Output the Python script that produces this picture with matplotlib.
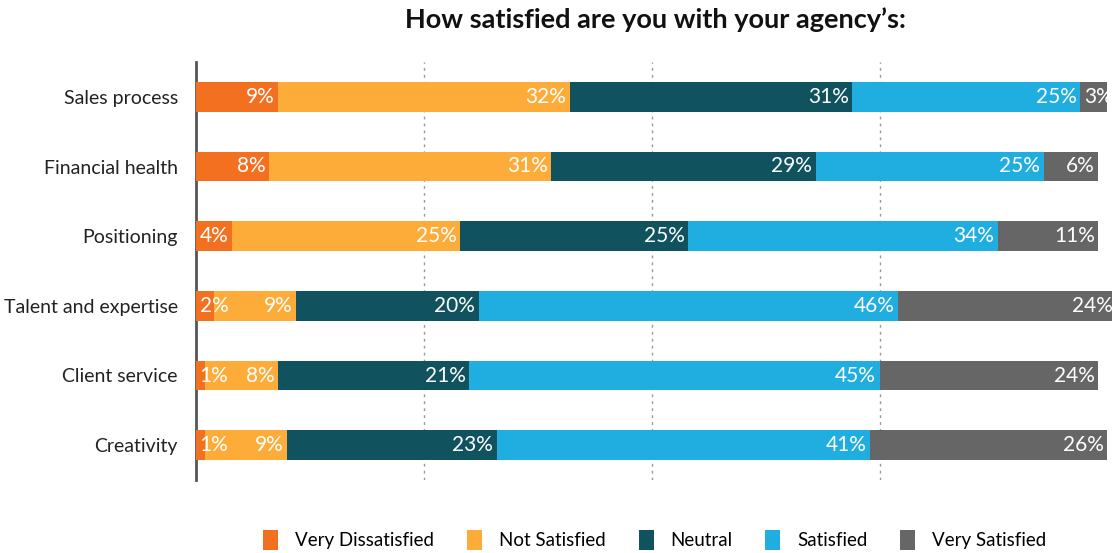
import matplotlib.pyplot as plt
from matplotlib.patches import Patch

plt.rcParams['font.family'] = ['Lato', 'DejaVu Sans']

categories = ["Sales process", "Financial health", "Positioning",
              "Talent and expertise", "Client service", "Creativity"]
levels = ["Very Dissatisfied", "Not Satisfied", "Neutral", "Satisfied", "Very Satisfied"]
colors = ["#F37021", "#FDAC39", "#10535E", "#20AEE0", "#666666"]

very_dissatisfied = [9, 8, 4, 2, 1, 1]
not_satisfied = [32, 31, 25, 9, 8, 9]
neutral = [31, 29, 25, 20, 21, 23]
satisfied = [25, 25, 34, 46, 45, 41]
very_satisfied = [3, 6, 11, 24, 24, 26]

series = [very_dissatisfied, not_satisfied, neutral, satisfied, very_satisfied]

fig = plt.figure(figsize=(11.12, 5.53), dpi=100)
ax = fig.add_axes([196 / 1112, 1 - 480 / 553, 1 - 196 / 1112, 418 / 553])

y = list(range(len(categories)))
left = [0] * len(categories)
for vals, name, col in zip(series, levels, colors):
    ax.barh(y, vals, left=left, height=0.43, color=col, label=name, zorder=3)
    for i, v in enumerate(vals):
        if v < 4:
            ax.text(left[i] + 0.4, i, f"{v}%", ha="left", va="center",
                    color="white", fontsize=15, zorder=4)
        else:
            ax.text(left[i] + v - 0.4, i, f"{v}%", ha="right", va="center",
                    color="white", fontsize=15, zorder=4)
    left = [l + v for l, v in zip(left, vals)]

ax.set_xlim(0, 100.5)
ax.set_ylim(len(categories) - 0.5, -0.5)
ax.set_yticks(y)
ax.set_yticklabels(categories, fontsize=14, color="#222222")
ax.tick_params(axis="y", length=0, pad=13)
ax.set_xticks([])

for gx in [25, 50, 75]:
    ax.axvline(gx, color="#999999", linestyle=(0, (2, 3)), linewidth=1, zorder=1)

for side in ["top", "right", "bottom"]:
    ax.spines[side].set_visible(False)
ax.spines["left"].set_color("#555555")
ax.spines["left"].set_linewidth(2)

fig.text(0.5895, 1 - 20 / 553, "How satisfied are you with your agency\u2019s:",
         ha="center", va="center", fontsize=19.5, fontweight="bold", color="#111111")

handles = [Patch(facecolor=c, label=n) for n, c in zip(levels, colors)]
fig.legend(handles=handles, loc="center", bbox_to_anchor=(0.589, 1 - 540 / 553),
           ncol=5, frameon=False, fontsize=13.5, handlelength=0.8, handleheight=1.2,
           handletextpad=0.9, columnspacing=1.75)

fig.savefig("out.png", dpi=100)
